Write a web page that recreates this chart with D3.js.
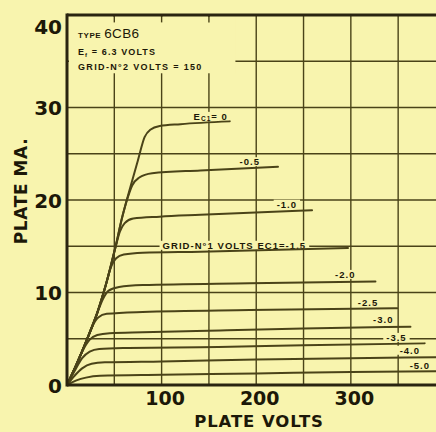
<!DOCTYPE html>
<html><head><meta charset="utf-8">
<script src="https://cdn.jsdelivr.net/npm/d3@7"></script>
<style>
html,body{margin:0;padding:0;background:#f8f4ae;}
svg{display:block;}
</style></head><body>
<svg id="c" width="436" height="432"></svg>
<script>
// ---- data (plate volts, plate mA) ----
const xTicks = [100, 200, 300];
const yTicks = [0, 10, 20, 30, 40];
const gridVolts = [50, 100, 150, 200, 250, 300, 350];
const gridMA = [5, 10, 15, 20, 25, 30, 35];
const ec1Labels = ["0", "-0.5", "-1.0", "-1.5", "-2.0", "-2.5", "-3.0", "-3.5", "-4.0", "-5.0"];

const ec1_0   = [[0,0],[10,2.2],[21,4.9],[32,7.8],[41,10.8],[51,14.8],[58,18.0],[67,21.4],[75,24.3],[82,26.8],[88,27.6],[98,28.0],[120,28.2],[172,28.5]];
const ec1_m05 = [[0,0],[10,2.2],[21,4.9],[32,7.8],[41,10.8],[51,14.8],[58,18.0],[64,20.2],[69,21.6],[76,22.4],[90,22.9],[141,23.2],[223,23.6]];
const ec1_m10 = [[0,0],[10,2.2],[21,4.9],[32,7.8],[41,10.8],[51,14.8],[56,16.6],[61,17.5],[70,18.0],[98,18.2],[141,18.4],[259,18.9]];
const ec1_m15 = [[0,0],[10,2.2],[21,4.9],[32,7.8],[41,10.8],[46,12.6],[52,13.7],[60,14.1],[80,14.3],[141,14.4],[297,14.8]];
const ec1_m20 = [[0,0],[10,2.2],[21,4.9],[32,7.8],[38,9.3],[44,10.2],[55,10.6],[80,10.8],[193,11.0],[326,11.2]];
const ec1_m25 = [[0,0],[10,2.2],[20,4.6],[27,6.4],[33,7.3],[42,7.7],[80,7.9],[193,8.1],[349,8.3]];
const ec1_m30 = [[0,0],[8,1.8],[16,3.6],[24,4.9],[32,5.4],[45,5.6],[80,5.7],[162,5.9],[250,6.1],[363,6.3]];
const ec1_m35 = [[0,0],[8,1.5],[16,2.9],[24,3.6],[34,3.9],[60,4.0],[160,4.1],[250,4.3],[378,4.5]];
const ec1_m40 = [[0,0],[8,1.0],[16,1.8],[26,2.3],[40,2.45],[100,2.55],[200,2.75],[300,2.9],[390,3.0]];
const ec1_m50 = [[0,0],[10,0.5],[20,0.8],[35,1.0],[100,1.1],[200,1.25],[300,1.4],[390,1.5]];

const curves = [ec1_0, ec1_m05, ec1_m10, ec1_m15, ec1_m20, ec1_m25, ec1_m30, ec1_m35, ec1_m40, ec1_m50];

// ---- layout ----
const W = 436, H = 432;
const BG = "#f8f4ae", INK = "#4a4318", TXT = "#1c1808";
const svg = d3.select("#c");
svg.append("rect").attr("width", W).attr("height", H).attr("fill", BG);

const x = d3.scaleLinear().domain([0, 390]).range([67, 436]);
const y = d3.scaleLinear().domain([0, 40]).range([385, 15]);

// grid
const g = svg.append("g");
g.selectAll("line.v").data(gridVolts).join("line")
  .attr("x1", d => x(d)).attr("x2", d => x(d))
  .attr("y1", y(40)).attr("y2", y(0))
  .attr("stroke", INK).attr("stroke-width", 1.4);
g.selectAll("line.h").data(gridMA).join("line")
  .attr("x1", x(0)).attr("x2", W)
  .attr("y1", d => y(d)).attr("y2", d => y(d))
  .attr("stroke", INK).attr("stroke-width", 1.4);

// header mask (clear area for type notes)
svg.append("rect")
  .attr("x", x(0) + 2).attr("y", y(40) + 2)
  .attr("width", x(178) - x(0) - 2).attr("height", y(33.7) - y(40) - 2)
  .attr("fill", BG);
svg.selectAll("line.tt").data(gridVolts.filter(v => v < 178)).join("line")
  .attr("x1", d => x(d)).attr("x2", d => x(d))
  .attr("y1", y(40)).attr("y2", y(39.2))
  .attr("stroke", INK).attr("stroke-width", 1.4);

// header text
const hdr = svg.append("g").attr("fill", TXT)
  .attr("font-family", "'Liberation Sans', Arial, sans-serif").attr("font-weight", "bold");
const t1 = hdr.append("text").attr("x", 78).attr("y", 38);
t1.append("tspan").attr("font-size", 8).attr("letter-spacing", 0.6).text("TYPE ");
t1.append("tspan").attr("font-size", 13.5).attr("font-weight", "normal").attr("letter-spacing", 0.4).text("6CB6");
const t2 = hdr.append("text").attr("x", 78).attr("y", 55).attr("font-size", 9).attr("letter-spacing", 1.1);
t2.append("tspan").text("E");
t2.append("tspan").attr("font-size", 6).attr("dy", 2).text("f");
t2.append("tspan").attr("dy", -2).text(" = 6.3 VOLTS");
hdr.append("text").attr("x", 78).attr("y", 70).attr("font-size", 9).attr("letter-spacing", 1.35)
  .text("GRID-N°2 VOLTS = 150");

// curve labels
const labelLayout = [
  {dx: -2, dy: -5},
  {dx: -18, dy: -5},
  {dx: -15, dy: -6},
  null,
  {dx: -20, dy: -7},
  {dx: -19, dy: -6},
  {dx: -17, dy: -7},
  {dx: -18, dy: -6},
  {ax: 420, dy: -7},
  {ax: 430, dy: -6}
];
const labG = svg.append("g").attr("font-family", "'Liberation Sans', Arial, sans-serif")
  .attr("font-weight", "bold").attr("fill", TXT);
const labTexts = [];
curves.forEach((c, i) => {
  const last = c[c.length - 1];
  const L = labelLayout[i];
  if (!L) return;
  const ax = L.ax !== undefined ? L.ax : x(last[0]) + L.dx;
  const t = labG.append("text").attr("x", ax).attr("y", y(last[1]) + L.dy + 3.5)
    .attr("text-anchor", "end").attr("font-size", 9.5).attr("letter-spacing", 1);
  if (i === 0) {
    t.append("tspan").text("E");
    t.append("tspan").attr("font-size", 6.5).attr("dy", 1.5).text("C1");
    t.append("tspan").attr("dy", -1.5).text("= " + ec1Labels[i]);
  } else {
    t.text(ec1Labels[i]);
  }
  labTexts.push(t);
});
// long label for -1.5
const long = labG.append("text").attr("x", x(101)).attr("y", y(14.4) - 3)
  .attr("font-size", 9.5).attr("letter-spacing", 1.05)
  .text("GRID-N°1 VOLTS EC1=" + ec1Labels[3]);
labTexts.push(long);

// mask grid behind labels
labTexts.forEach(t => {
  const b = t.node().getBBox();
  labG.insert("rect", ":first-child")
    .attr("x", b.x - 3).attr("y", b.y + 1).attr("width", b.width + 6).attr("height", b.height - 2)
    .attr("fill", BG);
});

// curves
const line = d3.line().x(d => x(d[0])).y(d => y(d[1])).curve(d3.curveMonotoneX);
svg.append("g").selectAll("path").data(curves).join("path")
  .attr("d", line).attr("fill", "none").attr("stroke", INK)
  .attr("stroke-width", 2).attr("stroke-linecap", "round");

// axes frame
const frame = svg.append("g").attr("stroke", "#2a2410").attr("stroke-width", 3);
frame.append("line").attr("x1", x(0)).attr("x2", W).attr("y1", y(40)).attr("y2", y(40));
frame.append("line").attr("x1", x(0)).attr("x2", x(0)).attr("y1", y(40) - 1.5).attr("y2", y(0) + 1.5);
frame.append("line").attr("x1", x(0)).attr("x2", W).attr("y1", y(0)).attr("y2", y(0));

// tick labels via axes
const yAx = svg.append("g").attr("transform", `translate(${x(0) - 1},0)`)
  .call(d3.axisLeft(y).tickValues(yTicks).tickSize(0).tickPadding(4).tickFormat(d3.format("d")));
yAx.select(".domain").remove();
yAx.selectAll("text").attr("font-size", 20).attr("font-weight", "bold")
  .attr("font-family", "'DejaVu Sans', sans-serif").attr("fill", TXT)
  .attr("dy", d => d === 40 ? "0.9em" : "0.36em");

const xAx = svg.append("g").attr("transform", `translate(0,${y(0)})`)
  .call(d3.axisBottom(x).tickValues(xTicks).tickSize(0).tickPadding(7).tickFormat(d3.format("d")));
xAx.select(".domain").remove();
xAx.selectAll("text").attr("font-size", 19).attr("font-weight", "bold")
  .attr("font-family", "'DejaVu Sans', sans-serif").attr("fill", TXT).attr("dx", 3);

// axis titles
svg.append("text").attr("x", 259).attr("y", 427).attr("text-anchor", "middle")
  .attr("font-family", "'DejaVu Sans', sans-serif").attr("font-weight", "bold")
  .attr("font-size", 16.5).attr("letter-spacing", 0.9).attr("fill", TXT).text("PLATE VOLTS");
svg.append("text").attr("transform", "translate(27,191) rotate(-90)").attr("text-anchor", "middle")
  .attr("font-family", "'DejaVu Sans', sans-serif").attr("font-weight", "bold")
  .attr("font-size", 17).attr("letter-spacing", 0.6).attr("fill", TXT).text("PLATE MA.");
</script>
</body></html>
